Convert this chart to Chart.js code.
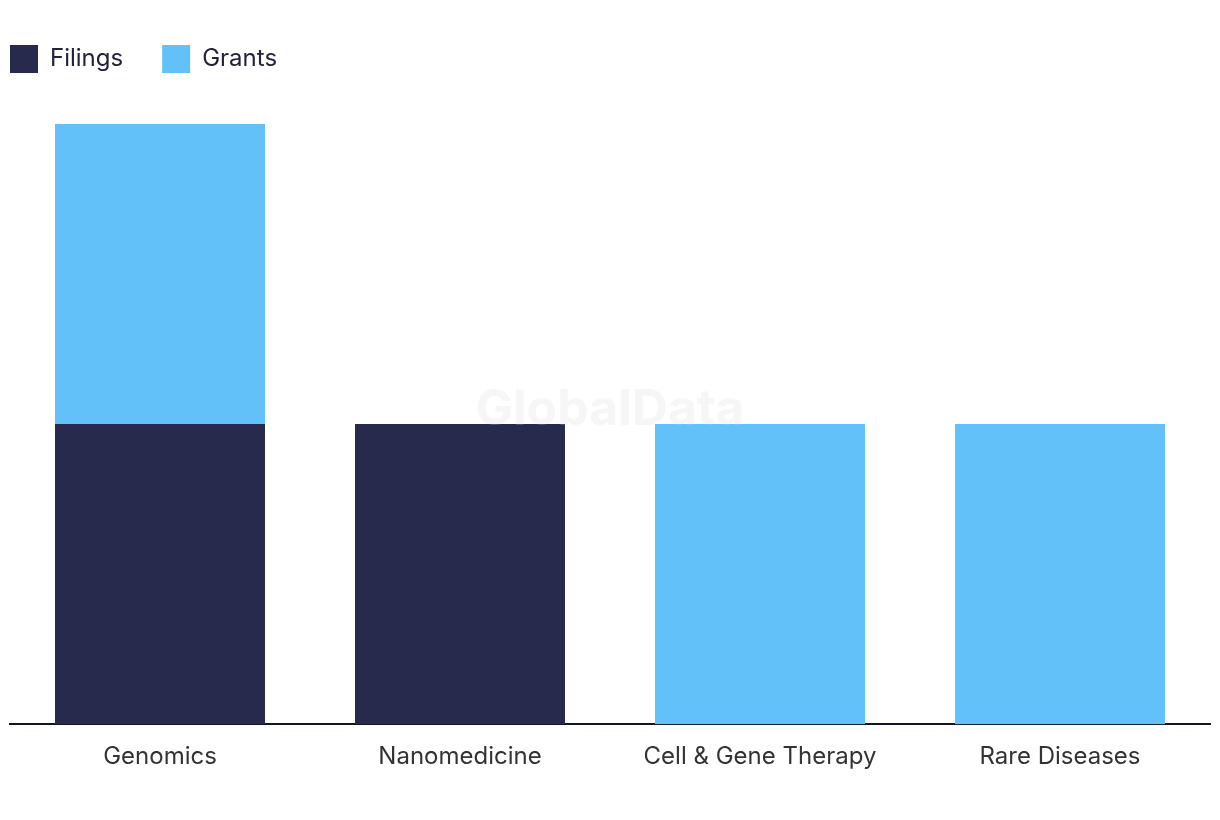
<!DOCTYPE html>
<html>
<head>
<meta charset="utf-8">
<script src="https://cdn.jsdelivr.net/npm/chart.js@4/dist/chart.umd.min.js"></script>
<style>
  body { margin: 0; background: #fff; }
  #wrap { width: 1220px; height: 820px; }
</style>
</head>
<body>
<div id="wrap"><canvas id="myChart" width="1220" height="820"></canvas></div>
<script>
const categories = ["Genomics", "Nanomedicine", "Cell & Gene Therapy", "Rare Diseases"];
const filings = [1, 1, 0, 0];
const grants = [1, 0, 1, 1];

const FONT = "Inter, 'Noto Sans', sans-serif";

// empty box under the legend to push the plot area down
const spacer = {
  id: "spacer",
  beforeInit(chart) {
    Chart.layouts.addBox(chart, {
      position: "top",
      weight: 0,
      fullSize: true,
      options: {},
      isHorizontal() { return true; },
      update(maxWidth) { this.width = maxWidth; this.height = 41; },
      draw() {},
    });
  },
};

// pull the legend flush with the left edge
const legendShift = {
  id: "legendShift",
  afterLayout(chart) {
    chart.legend.left = -29;
  },
};

const watermark = {
  id: "watermark",
  afterDatasetsDraw(chart) {
    const c = chart.ctx;
    c.save();
    c.font = "bold 50px " + FONT;
    c.fillStyle = "rgba(215, 215, 215, 0.22)";
    c.textAlign = "center";
    c.textBaseline = "middle";
    c.fillText("GlobalData", 610, 410);
    c.restore();
  },
};

const ctx = document.getElementById("myChart");

new Chart(ctx, {
  type: "bar",
  data: {
    labels: categories,
    datasets: [
      { label: "Filings", data: filings, backgroundColor: "#272A4D", barPercentage: 0.7, categoryPercentage: 1 },
      { label: "Grants", data: grants, backgroundColor: "#62C1F8", barPercentage: 0.7, categoryPercentage: 1 },
    ],
  },
  options: {
    responsive: false,
    animation: false,
    layout: { padding: { left: 10, right: 10, top: 6, bottom: 39 } },
    plugins: {
      legend: {
        align: "start",
        labels: {
          boxWidth: 28,
          boxHeight: 28,
          padding: 39,
          color: "#22223a",
          font: { family: FONT, size: 24 },
        },
      },
      tooltip: { enabled: false },
    },
    scales: {
      x: {
        stacked: true,
        grid: { display: false },
        border: { color: "#15152a", width: 2 },
        ticks: { color: "#333", padding: 10, font: { family: FONT, size: 24 } },
      },
      y: {
        stacked: true,
        display: false,
        min: 0,
        max: 2,
      },
    },
  },
  plugins: [spacer, legendShift, watermark],
});
</script>
</body>
</html>
